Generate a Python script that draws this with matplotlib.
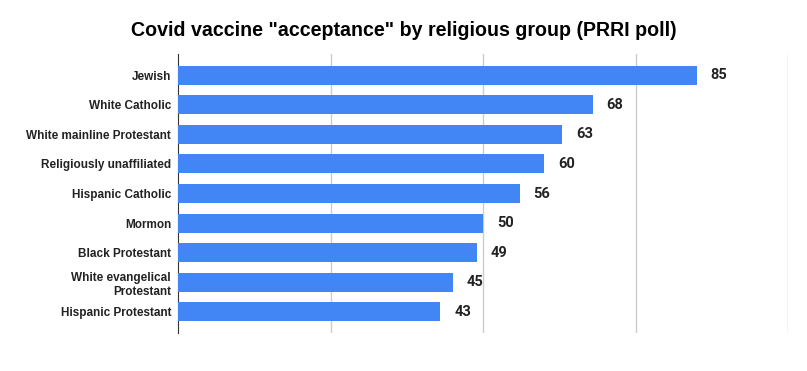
import matplotlib.pyplot as plt

groups = ['Jewish', 'White Catholic', 'White mainline Protestant',
          'Religiously unaffiliated', 'Hispanic Catholic', 'Mormon',
          'Black Protestant', 'White evangelical\nProtestant',
          'Hispanic Protestant']
acceptance = [85, 68, 63, 60, 56, 50, 49, 45, 43]

plt.rcParams['font.family'] = ['Liberation Sans', 'DejaVu Sans']

fig = plt.figure(figsize=(8.07, 3.71), dpi=100)
ax = fig.add_axes([178 / 807, 1 - 333 / 371, 610 / 807, 279 / 371])

pos = range(len(groups))
ax.barh(pos, acceptance, height=0.64, color='#4285f4', zorder=3)

for i, v in enumerate(acceptance):
    ax.annotate(str(v), (v, i), xytext=(10, 0), textcoords='offset points',
                va='center', ha='left', fontsize=10.5, fontweight='bold',
                family=['Roboto', 'DejaVu Sans'], color='#222222')

ax.set_xlim(0, 100)
ax.set_ylim(len(groups) - 0.29, -0.71)
ax.set_xticks([25, 50, 75, 100])
ax.set_xticklabels([])
ax.tick_params(axis='x', length=0)
ax.grid(axis='x', color='#cccccc', linewidth=1, zorder=0)
ax.set_yticks(list(pos))
ax.set_yticklabels(groups, fontsize=8.5, fontweight='bold', color='#222222')
ax.tick_params(axis='y', length=0, pad=5)
for s in ['top', 'right', 'bottom']:
    ax.spines[s].set_visible(False)
ax.spines['left'].set_color('#333333')

fig.suptitle('Covid vaccine "acceptance" by religious group (PRRI poll)',
             x=404 / 807, y=1 - 31 / 371, va='center', fontsize=14.1,
             fontweight='bold', color='#000000')

fig.savefig('out.png', dpi=100)
